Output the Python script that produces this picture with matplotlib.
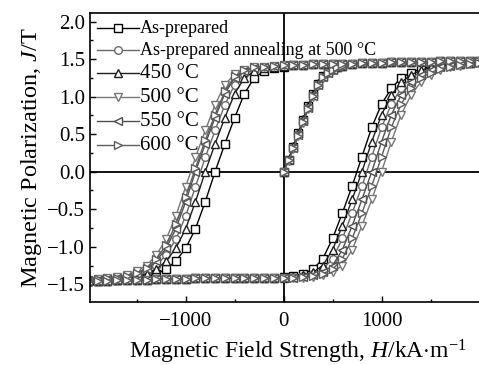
import matplotlib.pyplot as plt
from matplotlib.ticker import MultipleLocator

# field grid (kA/m) shared by the descending and ascending branches
H_GRID = [-2000, -1900, -1800, -1700, -1600, -1500, -1400, -1300, -1200, -1100,
          -1000, -900, -800, -700, -600, -500, -400, -300, -200, -100,
          0, 100, 200, 300, 400, 500, 600, 700, 800, 900,
          1000, 1100, 1200, 1300, 1400, 1500, 1600, 1700, 1800, 1900, 2000]

# initial magnetisation curve field values
H_INIT = [0, 50, 100, 150, 200, 250, 300, 350, 400, 450, 500, 550, 600]

labels = ["As-prepared", "As-prepared annealing at 500 °C",
          "450 °C", "500 °C", "550 °C", "600 °C"]

# upper plateau (H = 100 ... 2000), same for every sample
top = [1.42, 1.42, 1.43, 1.43, 1.44, 1.44, 1.44, 1.45, 1.45, 1.45,
       1.46, 1.46, 1.46, 1.46, 1.46, 1.47, 1.47, 1.47, 1.47, 1.47]
# lower plateau (H = -2000 ... -100), same for every sample
bottom = [-1.45, -1.45, -1.45, -1.44, -1.44, -1.44, -1.44, -1.43, -1.43, -1.43,
          -1.43, -1.42, -1.42, -1.42, -1.42, -1.41, -1.41, -1.41, -1.41, -1.41]

# descending branch, H = -2000 ... 0
down_asprep = [-1.45, -1.45, -1.44, -1.44, -1.43, -1.42, -1.40, -1.36, -1.30, -1.19,
               -1.02, -0.76, -0.40, 0.00, 0.37, 0.72, 1.04, 1.25, 1.34, 1.38, 1.40]
down_anneal = [-1.45, -1.44, -1.43, -1.42, -1.41, -1.38, -1.33, -1.25, -1.11, -0.90,
               -0.59, -0.20, 0.19, 0.55, 0.89, 1.16, 1.30, 1.36, 1.39, 1.40, 1.41]
down_450 = [-1.45, -1.44, -1.44, -1.43, -1.42, -1.40, -1.36, -1.30, -1.19, -1.02,
            -0.76, -0.40, 0.00, 0.37, 0.72, 1.04, 1.25, 1.34, 1.38, 1.40, 1.41]
down_500 = [-1.44, -1.43, -1.42, -1.40, -1.37, -1.32, -1.25, -1.11, -0.90, -0.59,
            -0.20, 0.19, 0.55, 0.89, 1.16, 1.30, 1.36, 1.39, 1.40, 1.41, 1.42]
down_550 = [-1.44, -1.44, -1.43, -1.42, -1.40, -1.36, -1.30, -1.19, -1.02, -0.76,
            -0.40, 0.00, 0.37, 0.72, 1.04, 1.25, 1.34, 1.38, 1.40, 1.41, 1.42]
down_600 = [-1.44, -1.43, -1.42, -1.41, -1.39, -1.35, -1.28, -1.16, -0.98, -0.70,
            -0.34, 0.05, 0.42, 0.76, 1.07, 1.27, 1.35, 1.39, 1.40, 1.41, 1.42]

# ascending branch, H = 0 ... 2000
up_asprep = [-1.40, -1.39, -1.36, -1.30, -1.16, -0.89, -0.55, -0.19, 0.20, 0.59,
             0.90, 1.11, 1.25, 1.32, 1.37, 1.40, 1.42, 1.43, 1.44, 1.45, 1.46]
up_anneal = [-1.41, -1.40, -1.39, -1.36, -1.30, -1.16, -0.89, -0.55, -0.19, 0.20,
             0.59, 0.90, 1.11, 1.25, 1.32, 1.37, 1.40, 1.42, 1.44, 1.45, 1.46]
up_450 = [-1.41, -1.40, -1.38, -1.34, -1.25, -1.04, -0.72, -0.37, 0.00, 0.40,
          0.76, 1.02, 1.19, 1.29, 1.35, 1.39, 1.41, 1.42, 1.44, 1.45, 1.46]
up_500 = [-1.41, -1.41, -1.41, -1.40, -1.38, -1.34, -1.25, -1.04, -0.72, -0.37,
          0.00, 0.40, 0.76, 1.02, 1.19, 1.29, 1.35, 1.39, 1.41, 1.43, 1.45]
up_550 = [-1.41, -1.41, -1.40, -1.38, -1.34, -1.25, -1.04, -0.72, -0.37, 0.00,
          0.40, 0.76, 1.02, 1.19, 1.29, 1.35, 1.39, 1.41, 1.43, 1.45, 1.46]
up_600 = [-1.41, -1.41, -1.40, -1.39, -1.36, -1.30, -1.16, -0.89, -0.55, -0.19,
          0.20, 0.59, 0.90, 1.11, 1.25, 1.32, 1.37, 1.40, 1.42, 1.44, 1.45]

# initial magnetisation curves
init_asprep = [0.00, 0.16, 0.33, 0.51, 0.69, 0.87, 1.03, 1.17, 1.27, 1.33, 1.37, 1.39, 1.41]
init_anneal = [0.00, 0.15, 0.32, 0.50, 0.68, 0.86, 1.02, 1.16, 1.26, 1.32, 1.36, 1.39, 1.41]
init_450 = [0.00, 0.17, 0.34, 0.52, 0.70, 0.88, 1.04, 1.18, 1.28, 1.34, 1.37, 1.39, 1.41]
init_500 = [0.00, 0.14, 0.30, 0.47, 0.65, 0.83, 1.00, 1.14, 1.25, 1.32, 1.36, 1.39, 1.41]
init_550 = [0.00, 0.15, 0.31, 0.49, 0.67, 0.85, 1.01, 1.15, 1.26, 1.32, 1.36, 1.39, 1.41]
init_600 = [0.00, 0.15, 0.31, 0.48, 0.66, 0.84, 1.01, 1.15, 1.26, 1.32, 1.36, 1.39, 1.41]

inits = [init_asprep, init_anneal, init_450, init_500, init_550, init_600]
downs = [down_asprep, down_anneal, down_450, down_500, down_550, down_600]
ups = [up_asprep, up_anneal, up_450, up_500, up_550, up_600]

markers = ["s", "o", "^", "v", "<", ">"]
colors = ["#000000", "#6a6a6a", "#1e1e1e", "#767676", "#505050", "#5c5c5c"]
legend_sizes = [13, 13, 15, 15, 15, 15]

plt.rcParams["font.family"] = ["Liberation Serif", "DejaVu Serif"]
plt.rcParams["mathtext.fontset"] = "custom"
plt.rcParams["mathtext.rm"] = "Liberation Serif"
plt.rcParams["mathtext.it"] = "Liberation Serif:italic"

fig = plt.figure(figsize=(4.79, 3.65), dpi=100)
ax = fig.add_axes([90 / 479, 1 - 302.3 / 365, 389 / 479, 289 / 365])

ax.axhline(0, color="k", lw=1.3, zorder=1)
ax.axvline(0, color="k", lw=1.3, zorder=1)

for lab, mk, col, ini, dn, up in zip(labels, markers, colors, inits, downs, ups):
    # whole measurement: initial curve -> +Hmax -> -Hmax -> +Hmax
    j_down = dn + top
    j_up = bottom + up
    hh = H_INIT + H_GRID[::-1] + H_GRID
    jj = ini + j_down[::-1] + j_up
    ax.plot(hh, jj, color=col, marker=mk, ms=5.5, mew=1.0, mfc="white",
            lw=1.0, label=lab, zorder=2)

ax.set_xlim(-1977, 1995)
ax.set_ylim(-1.74, 2.11)
ax.xaxis.set_major_locator(MultipleLocator(1000))
ax.xaxis.set_minor_locator(MultipleLocator(500))
ax.yaxis.set_major_locator(MultipleLocator(0.5))
ax.yaxis.set_minor_locator(MultipleLocator(0.25))
ax.tick_params(which="both", direction="in", top=False, right=False, labelsize=15)
ax.tick_params(which="major", length=4, width=1)
ax.tick_params(which="minor", length=2.5, width=1)
ax.tick_params(axis="x", pad=7)
ax.spines["right"].set_visible(False)
for s in ["left", "bottom", "top"]:
    ax.spines[s].set_linewidth(1.2)

ax.set_xlabel(r"Magnetic Field Strength, $H$/kA$\cdot$m$^{\mathregular{-1}}$", fontsize=17)
ax.xaxis.set_label_coords(0.535, -0.122)
ax.set_ylabel(r"Magnetic Polarization, $J$/T", fontsize=17.5, labelpad=2)

leg = ax.legend(loc="upper left", frameon=False, handlelength=3.0, handletextpad=0.1,
                borderaxespad=0.3, borderpad=0.2, labelspacing=0.36)
for t, fs in zip(leg.get_texts(), legend_sizes):
    t.set_fontsize(fs)

fig.savefig("out.png", dpi=100)
